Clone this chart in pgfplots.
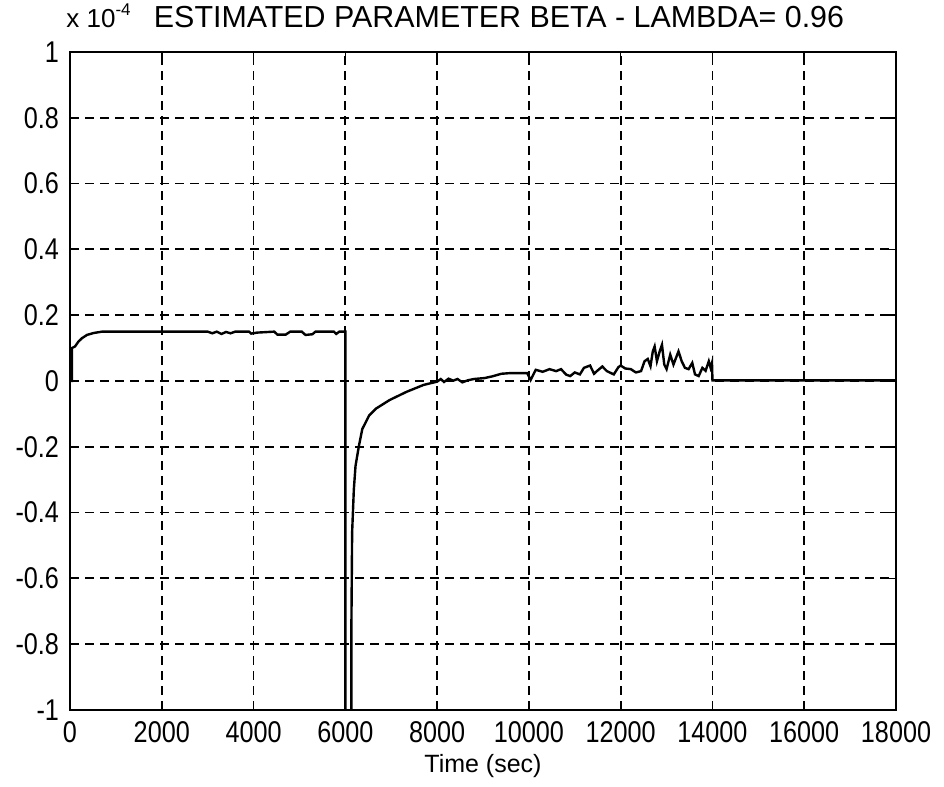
\documentclass[border=0pt]{standalone}
\usepackage{pgfplots}
\pgfplotsset{compat=1.18}
\usepackage{fontspec}
\setmainfont{Liberation Sans}
\newfontfamily\tickfont[FakeStretch=0.84]{Liberation Sans}
\begin{document}
\begin{tikzpicture}
\begin{axis}[
  scale only axis,
  width=413pt, height=329pt,
  xmin=0, xmax=18000, ymin=-1, ymax=1,
  scaled x ticks=false, scaled y ticks=false,
  xtick={0,2000,...,18000},
  xticklabels={0,2000,4000,6000,8000,10000,12000,14000,16000,18000},
  ytick={-1,-0.8,...,1.01},
  yticklabels={-1,-0.8,-0.6,-0.4,-0.2,0,0.2,0.4,0.6,0.8,1},
  tick align=inside,
  tick pos=both,
  major tick length=4pt,
  grid=major,
  major grid style={black, line width=0.9pt, dash pattern=on 4.5pt off 3pt},
  axis line style={black, line width=1.1pt},
  every tick/.style={black, line width=0.8pt},
  tick label style={font=\tickfont\fontsize{15}{17}\selectfont},
  xticklabel style={yshift=-2pt},
  yticklabel style={xshift=-2pt},
  xlabel={Time (sec)},
  xlabel style={font=\fontsize{12.5}{15}\selectfont, yshift=1pt},
  clip=true,
]
\addplot[black, line width=1.2pt] coordinates {
(0,0) (40,0) (40,0.10) (110,0.105) (185,0.12) (260,0.13) (370,0.14) (520,0.146) (700,0.15)
(3000,0.15) (3100,0.145) (3200,0.15) (3300,0.143) (3400,0.149) (3500,0.145) (3600,0.15)
(3900,0.15) (3950,0.144) (4070,0.147) (4450,0.15) (4520,0.141) (4700,0.141) (4800,0.15)
(5050,0.15) (5130,0.14) (5280,0.142) (5350,0.15) (5750,0.15) (5800,0.143) (5870,0.15) (6000,0.15)
(6000,-3) (6130,-3) (6130,-0.78) (6148,-0.46) (6185,-0.33) (6222,-0.258) (6296,-0.197)
(6370,-0.146) (6518,-0.105) (6667,-0.084) (6963,-0.058) (7333,-0.033) (7704,-0.012)
(8000,-0.002) (8080,0.006) (8150,-0.003) (8250,0.007) (8350,0.001) (8444,0.006) (8550,-0.004)
(8667,0.002) (8800,0.006) (9037,0.009) (9200,0.014) (9400,0.022) (9600,0.024) (9963,0.024)
(10037,0.003) (10148,0.034) (10300,0.028) (10450,0.036) (10593,0.03) (10700,0.036) (10815,0.019)
(10900,0.015) (11000,0.026) (11111,0.02) (11200,0.04) (11333,0.047) (11420,0.022) (11481,0.03)
(11600,0.044) (11700,0.03) (11850,0.02) (11950,0.042) (12000,0.047) (12100,0.038) (12222,0.036)
(12330,0.026) (12444,0.03) (12520,0.06) (12590,0.067) (12650,0.045) (12700,0.09) (12740,0.105)
(12790,0.06) (12850,0.09) (12900,0.11) (12950,0.05) (13000,0.036) (13080,0.08) (13150,0.05)
(13260,0.09) (13330,0.06) (13400,0.04) (13480,0.036) (13560,0.055) (13620,0.02) (13700,0.015)
(13780,0.04) (13850,0.031) (13920,0.06) (13960,0.04) (13990,0.055) (14000,0.002)
(18000,0.002)
};
\end{axis}
\node[anchor=base west, font=\fontsize{13}{15}\selectfont, inner sep=0pt] at ([xshift=-2pt,yshift=12pt]current axis.north west) {x 10\raisebox{6pt}{\fontsize{8.5}{10}\selectfont -4}};
\node[anchor=base, font=\fontsize{15.2}{17}\selectfont, inner sep=0pt] at ([xshift=8pt,yshift=12pt]current axis.north) {ESTIMATED PARAMETER BETA - LAMBDA= 0.96};
\pgfresetboundingbox
\path[use as bounding box] ([xshift=-35pt,yshift=-38pt]current axis.south west) rectangle ([xshift=24pt,yshift=26pt]current axis.north east);
\end{tikzpicture}
\end{document}
